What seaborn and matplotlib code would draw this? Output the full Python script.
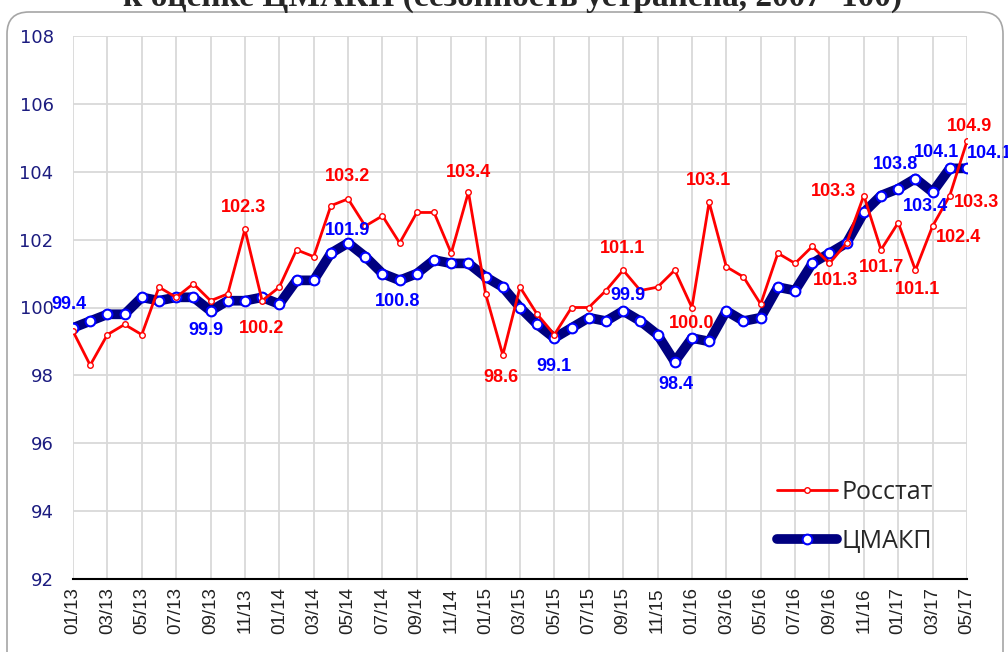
import matplotlib
matplotlib.use('Agg')
import matplotlib.pyplot as plt
import matplotlib.transforms as mtransforms
from matplotlib.patches import FancyBboxPatch
import seaborn as sns
import pandas as pd

# месяцы 01/13 ... 05/17
months = pd.date_range('2013-01-01', periods=53, freq='MS').strftime('%m/%y').tolist()

rosstat = [99.3, 98.3, 99.2, 99.5, 99.2, 100.6, 100.3, 100.7, 100.2, 100.4, 102.3, 100.2, 100.6,
           101.7, 101.5, 103.0, 103.2, 102.4, 102.7, 101.9, 102.8, 102.8, 101.6, 103.4, 100.4, 98.6,
           100.6, 99.8, 99.2, 100.0, 100.0, 100.5, 101.1, 100.5, 100.6, 101.1, 100.0, 103.1, 101.2,
           100.9, 100.1, 101.6, 101.3, 101.8, 101.3, 101.9, 103.3, 101.7, 102.5, 101.1, 102.4, 103.3, 104.9]
cmakp = [99.4, 99.6, 99.8, 99.8, 100.3, 100.2, 100.3, 100.3, 99.9, 100.2, 100.2, 100.3, 100.1,
         100.8, 100.8, 101.6, 101.9, 101.5, 101.0, 100.8, 101.0, 101.4, 101.3, 101.3, 100.9, 100.6,
         100.0, 99.5, 99.1, 99.4, 99.7, 99.6, 99.9, 99.6, 99.2, 98.4, 99.1, 99.0, 99.9,
         99.6, 99.7, 100.6, 100.5, 101.3, 101.6, 101.9, 102.8, 103.3, 103.5, 103.8, 103.4, 104.1, 104.1]

# подписанные точки: индекс месяца и смещение подписи (пиксели)
red_labels = [(10, -1, 22), (11, -1, -28), (16, -1, 22), (23, 0, 20), (25, -2, -22), (32, -1, 22),
              (36, 0, -16), (37, -1, 22), (44, 6, -17), (46, -30, 4), (47, 0, -18), (49, 2, -19),
              (50, 26, -11), (51, 27, -7), (52, 3, 15)]
blue_labels = [(0, -4, 23), (8, -5, -20), (16, -1, 13), (19, -2, -21), (28, 0, -28), (32, 5, 15),
               (35, 1, -23), (49, -20, 14), (50, -7, -14), (51, -13, 16), (52, 23, 15)]

sns.set_style('white')
plt.rcParams['font.family'] = ['DejaVu Sans']

fig = plt.figure(figsize=(10.08, 6.52), dpi=100)
ax = fig.add_axes([73/1008, 1-579/652, (967-73)/1008, (579-36)/652])

x = list(range(len(months)))
df = pd.DataFrame({'x': x, 'Росстат': rosstat, 'ЦМАКП': cmakp})

sns.lineplot(data=df, x='x', y='ЦМАКП', ax=ax, color='#000080', lw=7, marker='o', markersize=7,
             markerfacecolor='white', markeredgecolor='#0000ff', markeredgewidth=1.5,
             solid_joinstyle='round', solid_capstyle='round', label='ЦМАКП', zorder=3)
sns.lineplot(data=df, x='x', y='Росстат', ax=ax, color='#ff0000', lw=2, marker='o', markersize=4,
             markerfacecolor='white', markeredgecolor='#ff0000', markeredgewidth=1,
             label='Росстат', zorder=4)

lab_font = ['Liberation Sans']
for i, dx, dy in red_labels:
    ax.annotate(f'{rosstat[i]:.1f}', (i, rosstat[i]), xytext=(dx, dy), textcoords='offset pixels',
                ha='center', va='center', color='#ff0000', fontsize=13, fontweight='bold',
                family=lab_font, annotation_clip=False, zorder=5)
for i, dx, dy in blue_labels:
    ax.annotate(f'{cmakp[i]:.1f}', (i, cmakp[i]), xytext=(dx, dy), textcoords='offset pixels',
                ha='center', va='center', color='#0000ff', fontsize=13, fontweight='bold',
                family=lab_font, annotation_clip=False, zorder=5)

ax.set_xlim(0, 52)
ax.set_ylim(92, 108)
ax.set_xticks(x[::2])
ax.set_xticklabels(months[::2], rotation=90, fontsize=13.5, color='#222222', family='Liberation Sans')
ax.set_yticks(range(92, 109, 2))
ax.tick_params(axis='y', labelsize=13, labelcolor='#1c1c80', pad=14, length=0)
ax.tick_params(axis='x', pad=6, length=0)
ax.grid(True, color='#d9d9d9', lw=1.3)
ax.set_xlabel('')
ax.set_ylabel('')
for s in ['top', 'left', 'right']:
    ax.spines[s].set_visible(False)
ax.spines['bottom'].set_color('black')
ax.spines['bottom'].set_linewidth(1.5)

h, l = ax.get_legend_handles_labels()
ax.legend([h[1], h[0]], [l[1], l[0]], loc='center left', bbox_to_anchor=(777/1008, 1-517/652),
          bbox_transform=fig.transFigure, frameon=False, prop={'family': 'Open Sans', 'size': 18},
          handlelength=2.4, handletextpad=0.2, labelspacing=0.95, borderpad=0, borderaxespad=0)

fig.text(0.508, 1-6/652, 'к оценке ЦМАКП (сезонность устранена, 2007=100)', ha='center',
         va='baseline', fontsize=24, fontweight='bold', family='Liberation Serif')

border = FancyBboxPatch((7, -30), 996, 652-12+30, boxstyle='round,pad=0,rounding_size=22',
                        transform=mtransforms.IdentityTransform(), fill=False, ec='#a6a6a6', lw=1.2)
fig.add_artist(border)

fig.savefig('out.png', dpi=100)
